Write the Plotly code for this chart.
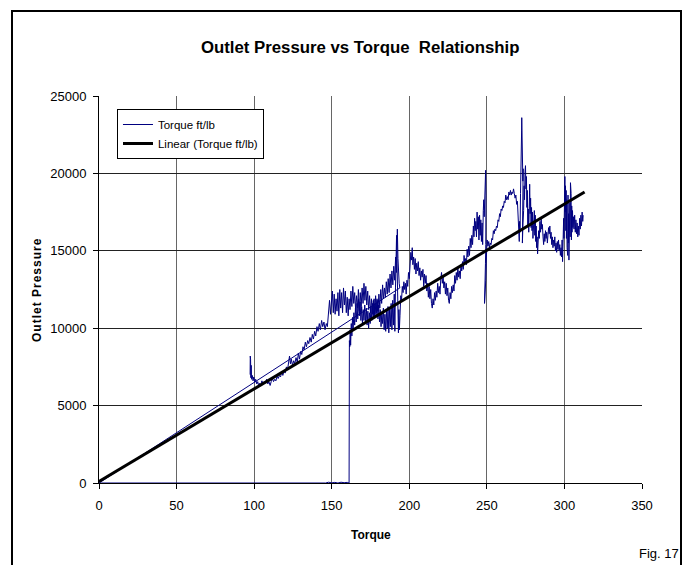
import plotly.graph_objects as go

# ---- data (torque ft/lb, outlet pressure), in recording order ----
rise_run = [(97.4, 7000), (97.5, 8200), (97.6, 7300), (97.7, 8000), (97.9, 6800), (98.1, 7600),
            (98.3, 6700), (98.8, 6950), (99.3, 6600), (99.8, 6850), (100.4, 6500), (101, 6700),
            (101.7, 6400), (102.3, 6550), (103, 6250), (103.6, 6450), (104.3, 6350), (105, 6600),
            (105.8, 6400), (106.5, 6550), (107.3, 6450), (108, 6700), (108.8, 6400), (109.5, 6550),
            (110.3, 6300), (111, 6550), (111.8, 6750), (112.5, 6550), (113.3, 6700), (114, 6600),
            (114.8, 6900), (115.5, 6750), (116.3, 6950), (117, 6850), (117.8, 7200), (118.5, 6950),
            (119.3, 7250), (120, 7100), (120.8, 7500), (121.5, 7300), (122.2, 7900), (122.8, 8200),
            (123.4, 7700), (124, 8000), (124.7, 7600), (125.5, 7900), (126.2, 7700), (127, 8100),
            (127.8, 7800), (128.5, 8400), (129.2, 8000), (130, 8500), (130.7, 8300), (131.5, 8800),
            (132.2, 8600), (133, 9100), (133.7, 8800), (134.5, 9200), (135.2, 9000), (136, 9400),
            (136.8, 9100), (137.5, 9600), (138.2, 9300), (139, 9800), (139.7, 9500), (140.5, 10100),
            (141.2, 9800), (142, 10300), (142.7, 9900), (143.5, 10500), (144.2, 10100), (145, 10400),
            (145.7, 9900), (146.5, 10300), (147.2, 10100), (148, 11000), (148.6, 11800), (149.2, 10900),
            (149.8, 12100), (150.4, 12400), (151, 11000), (151.6, 12200), (152.2, 10900), (152.8, 11900),
            (153.4, 11100), (154, 12300), (154.6, 10800), (155.2, 12500), (155.8, 11300), (156.4, 12300),
            (157, 11000), (157.6, 12600), (158.2, 11500), (158.8, 12400), (159.4, 11000), (160, 12000),
            (160.6, 10800), (161.2, 11900), (161.8, 11200), (162.4, 12400), (163, 11400), (163.6, 12700),
            (164.2, 11600), (164.8, 12300), (165.4, 11200), (166, 12100), (166.6, 11300), (167.2, 12500),
            (167.8, 11100), (168.4, 12300), (169, 11400), (169.6, 12600), (170.2, 11600), (170.8, 12900),
            (171.4, 11800), (172, 12700), (172.6, 11500), (173.2, 12400), (173.8, 11200), (174.4, 12100),
            (175, 11000), (175.6, 11900), (176.2, 10900), (176.8, 11800), (177.4, 10700), (178, 11600),
            (178.6, 10800), (179.2, 11900), (179.8, 11100), (180.4, 12200), (181, 11300), (181.6, 12500),
            (182.2, 11600), (182.8, 12800), (183.4, 11900), (184, 12600), (184.6, 12000), (185.2, 13000),
            (185.8, 12200), (186.4, 13200), (187, 12300), (187.6, 13500), (188.2, 12600), (188.8, 13700),
            (189.4, 12800), (190, 14000), (190.6, 13100), (191.2, 14600), (191.8, 13600), (192.3, 16400),
            (192.7, 14500), (193.1, 13300), (193.5, 12900), (193.9, 12600)]

zero_run = [(0, 0), (40, 0), (80, 0), (120, 0), (136, 20), (138, 0), (140, 40), (142, 10),
            (144, 30), (146, 0), (148, 50), (150, 10), (152, 40), (154, 0), (156, 50),
            (158, 20), (160, 40), (161.2, 0)]

main_run = [(161.4, 9200), (161.6, 8800), (161.9, 9900), (162.2, 8900), (162.6, 10300), (163, 9500),
            (163.4, 10700), (163.8, 9900), (164.3, 11000), (164.8, 10200), (165.3, 11300), (165.8, 10400),
            (166.3, 11600), (166.8, 10600), (167.3, 11900), (167.8, 10800), (168.3, 11700), (168.8, 10500),
            (169.3, 11400), (169.8, 10300), (170.3, 11200), (170.8, 10500), (171.3, 11500), (171.8, 10400),
            (172.3, 11300), (172.8, 10200), (173.3, 11100), (173.8, 10000), (174.3, 11000), (174.8, 10300),
            (175.3, 11400), (175.8, 10500), (176.3, 11600), (176.8, 10700), (177.3, 11900), (177.8, 10900),
            (178.3, 12100), (178.8, 11000), (179.3, 11800), (179.8, 10600), (180.3, 11500), (180.8, 10400),
            (181.3, 11200), (181.8, 10100), (182.3, 11000), (182.8, 10300), (183.3, 11300), (183.8, 9900),
            (184.3, 10900), (184.8, 9800), (185.3, 11100), (185.8, 10000), (186.3, 11400), (186.8, 9700),
            (187.3, 11200), (187.8, 10100), (188.3, 11600), (188.8, 9900), (189.3, 11800), (189.8, 10200),
            (190.3, 12200), (190.7, 9800), (191.1, 12600), (191.5, 14800), (191.8, 16000), (192.1, 14200),
            (192.4, 12400), (192.7, 10500), (193, 9700), (193.3, 11200), (193.6, 9900), (194, 10800),
            (194.5, 12100), (195, 11800), (195.5, 12700), (196, 12300), (196.5, 13000), (197, 12500),
            (197.5, 12900), (198, 12200), (198.5, 13100), (199, 12700), (199.5, 13600), (200, 13200),
            (200.5, 14300), (201, 14900), (201.5, 14400), (201.9, 15200), (202.3, 14100), (202.8, 14600),
            (203.3, 13800), (203.8, 14500), (204.3, 13500), (204.8, 14200), (205.3, 13700), (205.8, 14300),
            (206.3, 13400), (206.8, 13900), (207.3, 13100), (207.8, 13700), (208.3, 13300), (208.8, 13800),
            (209.3, 12700), (209.8, 13500), (210.3, 12900), (210.8, 13400), (211.3, 12400), (211.8, 12900),
            (212.3, 12000), (212.8, 12700), (213.3, 11900), (213.8, 12500), (214.3, 11600), (214.8, 11300),
            (215.3, 11900), (215.8, 11500), (216.3, 12300), (216.8, 11800), (217.3, 12400), (217.8, 12000),
            (218.3, 12900), (218.8, 12300), (219.3, 12700), (219.8, 12200), (220.3, 13200), (220.8, 13600),
            (221.3, 12900), (221.8, 13300), (222.3, 12600), (222.8, 13000), (223.3, 12200), (223.8, 12900),
            (224.3, 12100), (224.8, 12600), (225.3, 11800), (225.8, 11600), (226.3, 12300), (226.8, 11900),
            (227.3, 12700), (227.8, 12300), (228.3, 12800), (228.8, 12400), (229.3, 13400), (229.8, 12900),
            (230.3, 13600), (230.8, 13100), (231.3, 13900), (231.8, 13300), (232.3, 13700), (232.8, 13200),
            (233.3, 14100), (233.8, 13700), (234.3, 14300), (234.8, 13800), (235.3, 14700), (235.8, 14200),
            (236.3, 14500), (236.8, 14100), (237.3, 15100), (237.8, 14600), (238.3, 15300), (238.8, 14700),
            (239.3, 15800), (239.8, 15200), (240.3, 16000), (240.8, 15400), (241.3, 16600), (241.7, 15900),
            (242.1, 17100), (242.5, 16300), (242.9, 16900), (243.3, 15900), (243.7, 17500), (244.1, 16400),
            (244.5, 17200), (244.9, 15700), (245.3, 17300), (245.7, 16000), (246.1, 17000), (246.5, 15600),
            (246.9, 16800), (247.3, 15400), (247.7, 17600), (248, 18300), (248.3, 17200), (248.6, 19100),
            (248.9, 18200), (249.2, 20200), (249.4, 18600), (249.5, 17000), (249.3, 15400), (249.1, 14200),
            (248.8, 13000), (248.5, 11600), (248.7, 12400), (249, 11900), (249.3, 13100), (249.7, 14600),
            (250.2, 15700), (250.7, 15300), (251.2, 15600), (251.7, 15200), (252.2, 15500), (252.7, 15400),
            (253.2, 15800), (253.7, 15700), (254.2, 16300), (254.7, 16100), (255.2, 16400), (255.7, 16300),
            (256.2, 16600), (256.7, 16500), (257.2, 17000), (257.7, 16900), (258.2, 17400), (258.7, 17200),
            (259.2, 17700), (259.7, 17600), (260.2, 17900), (260.7, 17800), (261.2, 18200), (261.7, 18100),
            (262.2, 18600), (262.7, 18300), (263.2, 18500), (263.7, 18300), (264.2, 18800), (264.7, 18600),
            (265.2, 18900), (265.7, 18600), (266.2, 18800), (266.7, 18700), (267.2, 19000), (267.7, 18700),
            (268.2, 18400), (268.7, 18600), (269.2, 18000), (269.7, 18200), (270.2, 17300), (270.6, 16400),
            (270.9, 15600), (271.1, 16900), (271.4, 16200), (271.7, 18700), (272, 19800), (272.2, 21200),
            (272.4, 22800), (272.5, 23600), (272.6, 22200), (272.8, 22700), (273, 20900), (273.2, 19500),
            (273.4, 20300), (273.1, 18400), (272.8, 17200), (272.6, 16000), (272.9, 15500), (273.3, 16800),
            (273.7, 17600), (274, 19200), (274.3, 18300), (274.6, 20100), (274.9, 20500), (275.2, 19000),
            (275.5, 19800), (275.8, 17800), (276.1, 18900), (276.4, 16600), (276.7, 17700), (277, 16200),
            (277.3, 18300), (277.6, 19300), (277.9, 17400), (278.2, 18400), (278.5, 16500), (278.8, 17800),
            (279.1, 16300), (279.4, 17500), (279.7, 15800), (280, 17100), (280.3, 16400), (280.6, 17600),
            (280.9, 16000), (281.2, 17300), (281.5, 15600), (281.8, 16600), (282.1, 15200), (282.4, 15900),
            (282.7, 14800), (283, 15600), (283.4, 16300), (283.8, 15800), (284.2, 16900), (284.6, 16200),
            (285, 17100), (285.4, 16400), (285.8, 16700), (286.2, 15900), (286.6, 15400), (287, 16100),
            (287.4, 15600), (287.8, 16300), (288.2, 15800), (288.6, 16200), (289, 15500), (289.4, 16000),
            (289.8, 16500), (290.2, 16100), (290.6, 16600), (291, 15800), (291.4, 16200), (291.8, 15400),
            (292.2, 15900), (292.6, 15200), (293, 15700), (293.4, 15300), (293.8, 15900), (294.2, 15000),
            (294.6, 15500), (295, 14900), (295.4, 15600), (295.8, 15100), (296.2, 15700), (296.6, 15000),
            (297, 15400), (297.4, 14700), (297.8, 15200), (298.2, 14600), (298.5, 15700), (298.8, 14300),
            (299.1, 16200), (299.3, 15000), (299.5, 17100), (299.7, 15800), (299.9, 18400), (300.1, 16900),
            (300.3, 19800), (300.5, 17500), (300.7, 19200), (300.9, 16300), (301.1, 18900), (301.3, 15800),
            (301.5, 18300), (301.7, 15200), (301.9, 17800), (302.1, 14700), (302.3, 18600), (302.5, 15500),
            (302.7, 17400), (302.9, 14400), (303.1, 16800), (303.3, 15100), (303.5, 18100), (303.7, 15900),
            (303.9, 19400), (304.1, 16600), (304.3, 18700), (304.5, 15700), (304.7, 17900), (304.9, 16200),
            (305.2, 17600), (305.5, 16500), (305.8, 17200), (306.2, 16400), (306.6, 17300), (307, 16200),
            (307.4, 17000), (307.8, 16100), (308.2, 16800), (308.6, 15900), (309, 16600), (309.4, 16000),
            (309.8, 17100), (310.2, 16400), (310.6, 17300), (311, 16600), (311.4, 17500), (311.8, 16900),
            (312.1, 17300)]

trend_torque = [0, 313]
trend_pressure = [100, 18800]

x_ticks = [0, 50, 100, 150, 200, 250, 300, 350]
x_tick_labels = ["0", "50", "100", "150", "200", "250", "300", "350"]
y_ticks = [0, 5000, 10000, 15000, 20000, 25000]
y_tick_labels = ["0", "5000", "10000", "15000", "20000", "25000"]

series = rise_run + zero_run + main_run
torque = [p[0] for p in series]
pressure = [p[1] for p in series]

FONT = "Liberation Sans, Arial, sans-serif"
HS = "\u200a"
y_title = HS.join("Outlet Pressure")

fig = go.Figure()
fig.add_trace(go.Scatter(x=torque, y=pressure, mode="lines", name="Torque ft/lb",
                         line=dict(color="#000080", width=1)))
fig.add_trace(go.Scatter(x=trend_torque, y=trend_pressure, mode="lines",
                         name="Linear (Torque ft/lb)", line=dict(color="black", width=3)))

fig.update_layout(
    width=690, height=565, autosize=False,
    margin=dict(l=99, r=48, t=96, b=82),
    paper_bgcolor="white", plot_bgcolor="white",
    font=dict(family=FONT, color="black", size=13),
    title=dict(text="<b>Outlet Pressure vs Torque\u00a0 Relationship</b>",
               x=0.522, xref="container", xanchor="center",
               y=1 - 47 / 565, yref="container", yanchor="middle",
               font=dict(family=FONT, size=16.8, color="black")),
    showlegend=True,
    legend=dict(x=0.0331, y=0.9664, xanchor="left", yanchor="top",
                bgcolor="white", bordercolor="black", borderwidth=1,
                font=dict(family=FONT, size=11.5, color="black"),
                tracegroupgap=0),
    xaxis=dict(range=[0, 350], tickvals=x_ticks, ticktext=x_tick_labels, showgrid=True,
               gridcolor="#666666", gridwidth=1, showline=True, linecolor="black", linewidth=1,
               ticks="outside", ticklen=5, tickcolor="black", zeroline=False,
               tickfont=dict(family=FONT, size=13, color="black"),
               ticklabelstandoff=5),
    yaxis=dict(range=[0, 25000], tickvals=y_ticks, ticktext=y_tick_labels, showgrid=True,
               gridcolor="#222222", gridwidth=1, showline=True, linecolor="black", linewidth=1,
               ticks="outside", ticklen=5, tickcolor="black", zeroline=False,
               tickfont=dict(family=FONT, size=13, color="black"),
               ticklabelstandoff=4),
    annotations=[
        dict(text="<b>Torque</b>", x=0.5, y=(483 - 535) / 387, xref="paper", yref="paper",
             xanchor="center", yanchor="middle", showarrow=False,
             font=dict(family=FONT, size=12, color="black")),
        dict(text="<b>" + y_title + "</b>", x=(37 - 99) / 543, y=(483 - 290) / 387,
             xref="paper", yref="paper", xanchor="center", yanchor="middle",
             textangle=-90, showarrow=False,
             font=dict(family=FONT, size=12, color="black")),
        dict(text="Fig. 17", x=(681 - 99) / 543, y=(483 - 553) / 387, xref="paper",
             yref="paper", xanchor="right", yanchor="middle", showarrow=False,
             font=dict(family=FONT, size=13, color="black")),
    ],
    shapes=[
        dict(type="rect", xref="paper", yref="paper",
             x0=(12 - 99) / 543, x1=(681 - 99) / 543,
             y0=(483 - 600) / 387, y1=(483 - 11) / 387,
             line=dict(color="black", width=2), fillcolor="rgba(0,0,0,0)", layer="below"),
    ],
)

fig.write_html("out.html")
